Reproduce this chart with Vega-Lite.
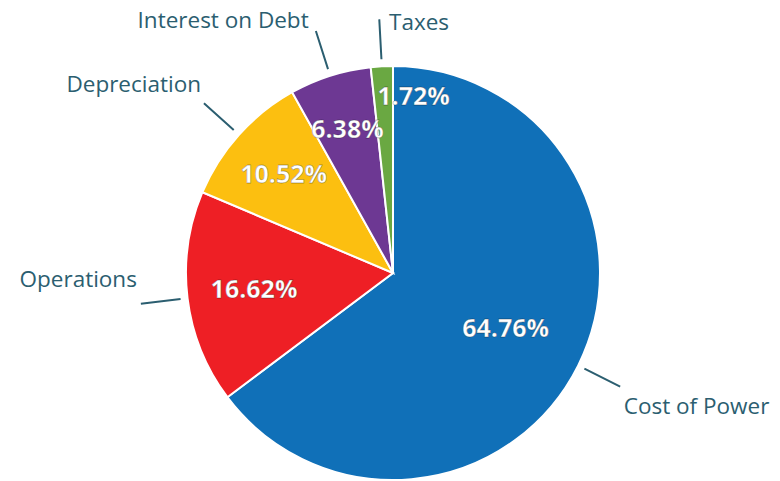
{
  "$schema": "https://vega.github.io/schema/vega-lite/v6.json",
  "width": 780,
  "height": 418,
  "autosize": "none",
  "padding": {"left": 3, "top": 64, "right": 0, "bottom": 0},
  "background": "white",
  "config": {"view": {"stroke": null}},
  "data": {
    "values": [
      {"category": "Cost of Power", "value": 0.6476},
      {"category": "Operations", "value": 0.1662},
      {"category": "Depreciation", "value": 0.1052},
      {"category": "Interest on Debt", "value": 0.0638},
      {"category": "Taxes", "value": 0.0172}
    ]
  },
  "transform": [
    {"stack": "value", "groupby": [], "sort": [{"field": "value", "order": "descending"}], "as": ["v0", "v1"]},
    {"calculate": "(datum.v0 + datum.v1) / 2", "as": "mid"}
  ],
  "layer": [
    {
      "mark": {"type": "arc", "outerRadius": 207, "stroke": "white", "strokeWidth": 2},
      "encoding": {
        "theta": {"field": "v0", "type": "quantitative", "stack": null, "scale": {"domain": [0, 1]}},
        "theta2": {"field": "v1"},
        "color": {
          "field": "category",
          "type": "nominal",
          "scale": {
            "domain": ["Cost of Power", "Operations", "Depreciation", "Interest on Debt", "Taxes"],
            "range": ["#1070b8", "#ee1f25", "#fcbf10", "#6d3893", "#6aa842"]
          },
          "legend": null
        }
      }
    },
    {
      "mark": {"type": "arc", "outerRadius": 254, "innerRadius": 214, "fillOpacity": 0, "stroke": "#2b5e70", "strokeWidth": 2},
      "encoding": {
        "theta": {"field": "mid", "type": "quantitative", "stack": null},
        "theta2": {"field": "mid"}
      }
    },
    {
      "transform": [{"filter": "datum.category == 'Cost of Power'"}],
      "mark": {"type": "text", "radius": 126, "font": "Open Sans", "fontWeight": "bold", "fontSize": 25, "fill": "white", "stroke": "#000000", "strokeWidth": 0.8, "strokeOpacity": 0.3},
      "encoding": {
        "theta": {"field": "mid", "type": "quantitative", "stack": null},
        "text": {"field": "value", "type": "quantitative", "format": ".2%"}
      }
    },
    {
      "transform": [{"filter": "datum.category == 'Operations'"}],
      "mark": {"type": "text", "radius": 140, "font": "Open Sans", "fontWeight": "bold", "fontSize": 25, "fill": "white", "stroke": "#000000", "strokeWidth": 0.8, "strokeOpacity": 0.3},
      "encoding": {
        "theta": {"field": "mid", "type": "quantitative", "stack": null},
        "text": {"field": "value", "type": "quantitative", "format": ".2%"}
      }
    },
    {
      "transform": [{"filter": "datum.category == 'Depreciation'"}],
      "mark": {"type": "text", "radius": 147, "font": "Open Sans", "fontWeight": "bold", "fontSize": 25, "fill": "white", "stroke": "#000000", "strokeWidth": 0.8, "strokeOpacity": 0.3},
      "encoding": {
        "theta": {"field": "mid", "type": "quantitative", "stack": null},
        "text": {"field": "value", "type": "quantitative", "format": ".2%"}
      }
    },
    {
      "transform": [{"filter": "datum.category == 'Interest on Debt'"}],
      "mark": {"type": "text", "radius": 150, "font": "Open Sans", "fontWeight": "bold", "fontSize": 25, "fill": "white", "stroke": "#000000", "strokeWidth": 0.8, "strokeOpacity": 0.3},
      "encoding": {
        "theta": {"field": "mid", "type": "quantitative", "stack": null},
        "text": {"field": "value", "type": "quantitative", "format": ".2%"}
      }
    },
    {
      "transform": [{"filter": "datum.category == 'Taxes'"}],
      "mark": {"type": "text", "radius": 176, "dx": 30, "font": "Open Sans", "fontWeight": "bold", "fontSize": 25, "fill": "white", "stroke": "#000000", "strokeWidth": 0.8, "strokeOpacity": 0.3},
      "encoding": {
        "theta": {"field": "mid", "type": "quantitative", "stack": null},
        "text": {"field": "value", "type": "quantitative", "format": ".2%"}
      }
    },
    {
      "transform": [{"filter": "datum.category == 'Cost of Power'"}],
      "mark": {"type": "text", "radius": 258, "dx": 0, "dy": 8, "font": "Open Sans", "fontSize": 22.5, "fill": "#2b5e70", "align": "left", "baseline": "top"},
      "encoding": {
        "theta": {"field": "mid", "type": "quantitative", "stack": null},
        "text": {"field": "category"}
      }
    },
    {
      "transform": [{"filter": "datum.category == 'Operations'"}],
      "mark": {"type": "text", "radius": 258, "dx": 0, "dy": -24, "font": "Open Sans", "fontSize": 22.5, "fill": "#2b5e70", "align": "right", "baseline": "middle"},
      "encoding": {
        "theta": {"field": "mid", "type": "quantitative", "stack": null},
        "text": {"field": "category"}
      }
    },
    {
      "transform": [{"filter": "datum.category == 'Depreciation'"}],
      "mark": {"type": "text", "radius": 258, "dx": 0, "dy": -16, "font": "Open Sans", "fontSize": 22.5, "fill": "#2b5e70", "align": "right", "baseline": "middle"},
      "encoding": {
        "theta": {"field": "mid", "type": "quantitative", "stack": null},
        "text": {"field": "category"}
      }
    },
    {
      "transform": [{"filter": "datum.category == 'Interest on Debt'"}],
      "mark": {"type": "text", "radius": 258, "dx": -6, "dy": -6, "font": "Open Sans", "fontSize": 22.5, "fill": "#2b5e70", "align": "right", "baseline": "middle"},
      "encoding": {
        "theta": {"field": "mid", "type": "quantitative", "stack": null},
        "text": {"field": "category"}
      }
    },
    {
      "transform": [{"filter": "datum.category == 'Taxes'"}],
      "mark": {"type": "text", "radius": 258, "dx": 10, "dy": 8, "font": "Open Sans", "fontSize": 22.5, "fill": "#2b5e70", "align": "left", "baseline": "middle"},
      "encoding": {
        "theta": {"field": "mid", "type": "quantitative", "stack": null},
        "text": {"field": "category"}
      }
    }
  ]
}
